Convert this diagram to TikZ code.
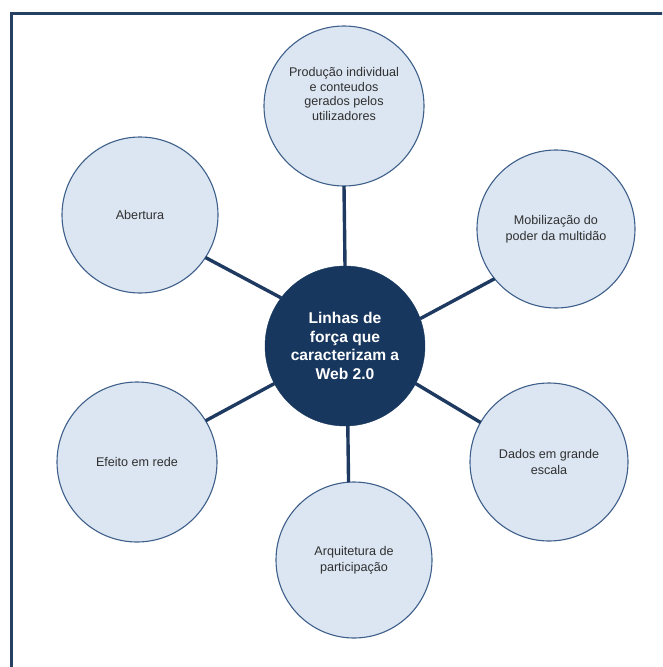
\documentclass[tikz,border=0pt]{standalone}
\usepackage{fontspec}
\setmainfont{Liberation Sans}
\definecolor{navy}{HTML}{17375E}
\definecolor{linkc}{HTML}{1F3A60}
\definecolor{bubfill}{HTML}{DCE6F2}
\definecolor{bubline}{HTML}{3E5F8A}
\definecolor{framec}{HTML}{254061}
\definecolor{txtc}{HTML}{303030}
\begin{document}
\begin{tikzpicture}[x=1pt,y=-1pt,
  bubble/.style={circle,draw=bubline,line width=1.1pt,fill=bubfill,outer sep=0pt,inner sep=0pt,
    align=center,text=txtc,font=\fontsize{12.6}{16}\selectfont},
  hub/.style={circle,fill=navy,draw=navy,outer sep=0pt,minimum size=160pt,inner sep=0pt,
    align=center,text=white,font=\fontsize{15.6}{18.5}\selectfont\bfseries},
  link/.style={draw=linkc,line width=3.4pt}]
\useasboundingbox (0,0) rectangle (662,667);
\clip (0,0) rectangle (662,667);
\draw[framec,line width=3pt] (700,13) -- (11.5,13) -- (11.5,700);
\node[hub] (c) at (345,346) {Linhas de\\força que\\caracterizam a\\Web 2.0};
\node[bubble,minimum size=160pt,label={[yshift=12pt,align=center,text=txtc,font=\fontsize{12.6}{14.5}\selectfont]center:Produção individual\\e conteudos\\gerados  pelos\\utilizadores}] (top) at (344,106) {};
\node[bubble,minimum size=156pt] (ab) at (140,215) {Abertura};
\node[bubble,minimum size=158pt] (mob) at (556,229) {Mobilização do\\poder da multidão};
\node[bubble,minimum size=160pt] (ef) at (137,462) {Efeito em rede};
\node[bubble,minimum size=158pt] (da) at (549,462) {Dados em grande\\escala};
\node[bubble,minimum size=156pt] (arq) at (354,560) {Arquitetura de\\participação};
\draw[link] (c.90) -- (top.-90);
\draw[link] (c.143) -- (ab.-33.5);
\draw[link] (c.20.5) -- (mob.219);
\draw[link] (c.-28.5) -- (da.150);
\draw[link] (c.-88) -- (arq.94.5);
\draw[link] (c.208.4) -- (ef.31);
\end{tikzpicture}
\end{document}
